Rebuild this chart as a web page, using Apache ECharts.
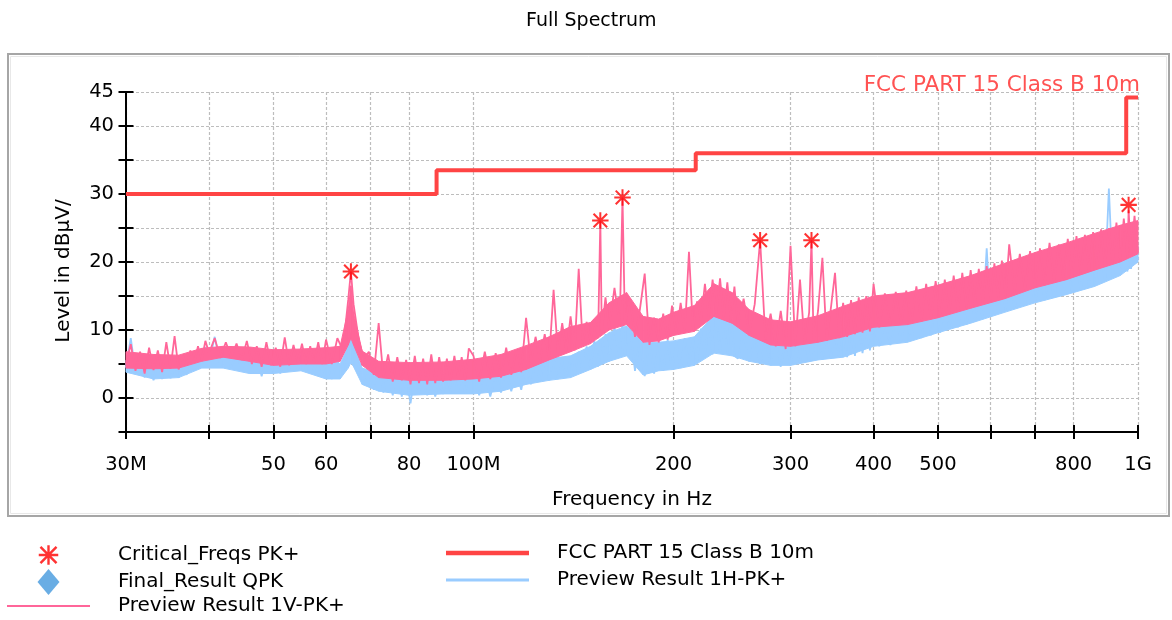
<!DOCTYPE html>
<html>
<head>
<meta charset="utf-8">
<title>Full Spectrum</title>
<script src="https://cdn.jsdelivr.net/npm/echarts@6/dist/echarts.min.js"></script>
<style>
  html, body { margin: 0; padding: 0; background: #fff; }
  #chart { width: 1172px; height: 620px; }
</style>
</head>
<body>
<div id="chart"></div>
<script>
// sweep frequencies in MHz, shared by both preview traces
const freqMHz = [
  30, 30.5, 31, 31.5, 32, 32.5, 33, 33.5, 34, 34.5, 35, 35.5, 36, 36.5, 37, 37.5, 38, 38.5, 39, 39.5,
  40, 40.8, 41.6, 42.4, 43.2, 44, 44.8, 45.6, 46.4, 47.2, 48, 48.8, 49.6, 50.4, 51.2, 52, 52.8, 53.6, 54.4, 55.2, 56, 56.8, 57.6, 58.4, 59.2,
  60, 61.2, 62.4, 63.6, 64.8, 65.4, 66, 67.2, 68.4, 69.6, 70.8, 72, 73.2, 74.4, 75.6, 76.8, 78, 79.2, 80.4, 81.6, 82.8, 84, 85.2, 86.4, 87.6, 88.8, 90, 91.2, 92.4, 93.6, 94.8, 96, 97.2, 98.4,
  100, 102, 104, 106, 108, 110, 112, 114, 116, 118, 120, 122, 124, 126, 128, 130, 132, 134, 136, 138, 140, 142, 144, 146, 148, 150, 152, 154, 155.2, 156, 158,
  160, 163, 166, 167.6, 169, 172, 175, 178, 181, 184, 187, 190, 193, 196, 199, 202, 205, 208, 211, 214, 217, 220, 223, 226, 229, 232, 235, 238, 241, 244, 247,
  250, 255, 260, 265, 270, 275, 280, 285, 290, 295, 300, 305, 310, 315, 320, 322.6, 325, 330, 335, 340, 345, 350, 355, 360, 365, 370, 375, 380, 385, 390, 395,
  400, 408, 416, 424, 432, 440, 448, 456, 464, 472, 480, 488, 496, 504, 512, 520, 528, 536, 544, 552, 560, 568, 576, 584, 592, 600, 608, 616, 624, 632,
  640, 652, 664, 676, 688, 700, 712, 724, 736, 748, 760, 772, 784, 796, 808, 820, 832, 844, 856, 868, 880, 892, 904, 916, 928, 940, 952, 964, 968, 976, 988, 1000
];

// Preview Result 1V-PK+ (dBµV/m)
const levelV = [
  5.0, 7.9, 4.0, 6.8, 3.6, 7.4, 4.1, 7.0, 3.8, 8.2, 4.3, 9.1, 4.2, 6.3, 4.8, 7.0, 5.2, 7.6, 5.6, 8.4,
  6.6, 8.8, 5.9, 8.2, 6.0, 8.0, 5.6, 8.4, 5.0, 7.6, 4.6, 8.2, 4.8, 7.4, 4.6, 8.9, 4.8, 7.8, 5.2, 8.0, 5.0, 7.6, 5.2, 8.2, 5.0,
  8.6, 5.0, 8.8, 7.0, 14.5, 18.6, 13.8, 8.5, 5.8, 6.8, 3.4, 11.0, 3.0, 6.4, 2.4, 6.0, 2.6, 5.6, 2.0, 6.2, 2.2, 5.8, 2.0, 6.4, 2.2, 6.0, 2.4, 5.8, 2.6, 6.2, 2.8, 6.0, 2.6, 7.3,
  6.2, 2.4, 6.8, 2.8, 6.6, 3.0, 7.4, 3.4, 7.0, 3.8, 11.8, 5.2, 9.0, 5.6, 9.4, 5.8, 15.9, 6.4, 11.0, 6.8, 12.0, 7.0, 19.0, 8.0, 11.2, 8.4, 11.6, 8.8, 26.1, 9.6, 14.8,
  10.2, 16.2, 10.8, 29.5, 11.0, 14.6, 9.0, 13.0, 18.3, 7.8, 11.8, 8.2, 12.4, 8.6, 13.6, 9.4, 14.0, 9.6, 21.5, 10.0, 14.2, 11.4, 16.8, 12.0, 17.4, 12.4, 17.6, 11.8, 17.0, 11.4, 16.4,
  10.6, 14.6, 9.6, 13.8, 23.2, 8.6, 12.4, 7.6, 12.8, 7.2, 22.4, 7.6, 17.4, 8.0, 12.6, 23.2, 8.2, 12.8, 20.6, 8.4, 13.2, 18.4, 8.8, 14.0, 9.0, 14.4, 9.4, 14.8, 9.6, 15.0, 9.8,
  16.8, 10.4, 15.4, 10.6, 15.6, 10.8, 15.8, 11.0, 16.4, 11.2, 16.8, 11.6, 17.2, 12.0, 17.4, 12.4, 18.0, 12.8, 18.4, 13.2, 18.8, 13.6, 19.0, 14.0, 19.4, 14.4, 19.8, 14.8, 20.2, 15.0,
  22.6, 15.6, 21.2, 16.0, 21.6, 16.4, 22.0, 16.6, 22.8, 17.0, 22.6, 17.4, 23.4, 17.8, 23.8, 18.2, 24.0, 18.6, 24.4, 19.0, 24.8, 19.4, 25.0, 19.8, 25.8, 20.2, 26.4, 20.6, 27.6, 21.0, 26.8, 21.4
];

// Preview Result 1H-PK+ (dBµV/m)
const levelH = [
  4.5, 8.8, 3.8, 5.9, 3.0, 5.4, 2.6, 5.0, 2.8, 5.5, 2.9, 4.6, 3.0, 4.5, 3.4, 5.8, 4.0, 6.6, 4.6, 7.5,
  5.2, 9.0, 4.8, 6.8, 4.5, 6.5, 4.2, 6.9, 3.6, 6.2, 3.2, 6.0, 3.8, 5.6, 3.6, 5.8, 4.0, 6.0, 4.2, 6.2, 4.0, 5.8, 4.0, 6.0, 3.4,
  5.2, 2.8, 5.4, 4.0, 8.0, 9.6, 8.2, 4.5, 2.0, 4.0, 1.2, 4.4, 0.8, 3.8, 0.4, 4.2, 0.2, 3.4, -0.8, 3.6, 0.6, 3.0, 0.4, 2.6, 0.2, 2.8, 0.6, 3.0, 0.8, 3.2, 1.0, 3.4, 0.6, 3.6,
  3.2, 0.4, 3.6, 0.2, 3.4, 0.8, 3.8, 1.0, 4.0, 1.2, 4.8, 2.0, 5.4, 2.4, 5.6, 2.6, 5.8, 2.8, 5.4, 3.0, 5.9, 3.4, 6.8, 3.8, 7.6, 4.2, 8.4, 4.6, 8.6, 5.0, 9.4,
  5.4, 10.4, 6.0, 11.2, 6.2, 10.6, 4.0, 8.6, 3.2, 8.4, 3.6, 8.0, 4.0, 8.6, 4.2, 8.2, 4.4, 8.8, 4.8, 8.6, 5.4, 10.2, 6.0, 11.4, 6.4, 12.2, 6.8, 12.6, 6.4, 11.8, 6.2,
  5.8, 9.6, 5.4, 9.0, 5.0, 8.6, 4.8, 8.6, 4.6, 8.8, 4.8, 8.2, 5.2, 8.6, 5.4, 9.0, 5.6, 9.2, 5.6, 9.2, 5.8, 9.4, 6.0, 9.6, 6.0, 10.0, 6.2, 10.2, 6.6, 10.6, 7.0,
  11.0, 7.6, 11.2, 7.8, 11.6, 8.2, 12.0, 8.4, 12.4, 8.8, 12.8, 9.2, 13.2, 9.6, 13.6, 10.2, 14.0, 10.4, 14.4, 10.8, 14.8, 11.2, 15.2, 11.6, 22.0, 12.0, 15.8, 12.4, 16.2, 12.8,
  17.0, 13.2, 17.2, 13.6, 17.6, 14.0, 18.0, 14.4, 18.4, 14.8, 18.6, 15.2, 19.0, 15.6, 19.4, 16.0, 19.8, 16.4, 20.2, 16.8, 20.6, 17.2, 30.8, 17.8, 21.4, 18.2, 21.8, 18.6, 22.0, 19.0, 22.4, 20.4
];

// dense-trace body: inner top/bottom edge of each trace's noise band (MHz, dBµV/m)
const bandFreq = [30, 33, 36, 39, 42, 46, 50, 55, 60, 63, 64.8, 65.4, 66, 68, 72, 80, 90, 100, 110, 120, 130, 140, 150, 160, 170, 180, 190, 200, 215, 230, 245, 260, 280, 300, 330, 360, 400, 450, 500, 560, 630, 700, 780, 860, 940, 1000];
const bandTopV = [6.8, 6.4, 6.3, 7.3, 7.6, 7.5, 7.1, 7.2, 7.4, 7.6, 13.0, 16.5, 12.5, 6.9, 5.4, 5.2, 5.3, 5.7, 6.4, 7.7, 9.0, 10.5, 11.1, 14.0, 15.5, 12.0, 11.6, 12.6, 13.6, 16.8, 15.5, 13.0, 11.5, 11.2, 12.1, 13.5, 15.0, 15.5, 16.6, 18.0, 19.8, 21.4, 22.8, 24.2, 25.4, 26.1];
const bandBotV = [4.4, 4.3, 4.4, 5.4, 6.0, 5.4, 4.8, 5.0, 5.0, 5.4, 7.8, 8.8, 7.8, 4.8, 3.0, 2.6, 2.6, 2.8, 3.2, 4.2, 5.6, 6.8, 8.0, 10.0, 10.8, 8.2, 8.4, 9.2, 9.8, 12.0, 11.0, 9.2, 7.8, 7.6, 8.2, 9.0, 10.4, 10.8, 11.8, 13.2, 14.6, 16.2, 17.4, 18.8, 20.0, 21.2];
const bandTopH = [5.6, 5.2, 4.8, 6.6, 6.8, 6.2, 6.0, 6.2, 5.6, 5.0, 7.6, 9.0, 8.0, 4.4, 3.6, 3.4, 3.2, 3.6, 4.0, 5.0, 5.8, 6.2, 7.6, 9.6, 10.6, 8.2, 8.2, 8.4, 9.0, 12.2, 11.2, 9.4, 8.8, 8.6, 9.4, 9.8, 11.2, 12.2, 13.6, 15.0, 16.6, 18.2, 19.4, 20.4, 21.6, 22.4];
const bandBotH = [3.8, 2.8, 3.0, 4.4, 4.4, 3.6, 3.6, 4.0, 2.8, 2.8, 4.4, 5.2, 4.6, 2.0, 1.0, 0.4, 0.6, 0.6, 1.0, 2.0, 2.6, 3.0, 4.2, 5.4, 6.2, 3.4, 4.0, 4.2, 4.8, 6.6, 6.2, 5.4, 4.8, 4.8, 5.6, 6.0, 7.6, 8.2, 9.6, 11.0, 12.6, 14.0, 15.2, 16.4, 18.0, 20.0];

// Critical_Freqs PK+
const critFreqs = [65.4, 155.2, 167.6, 270, 322.6, 968];
const critLevels = [18.6, 26.1, 29.5, 23.2, 23.2, 28.4];

// FCC PART 15 Class B 10m limit (step changes)
const limitFreqs = [30, 88, 216, 960, 1000];
const limitLevels = [30, 33.5, 36, 44.2, 44.2];

// axis ticks
const xTickMHz = [30, 40, 50, 60, 70, 80, 100, 200, 300, 400, 500, 600, 700, 800, 1000];
const xLabelMHz = [30, 50, 60, 80, 100, 200, 300, 400, 500, 800, 1000];
const xLabelText = { 30: '30M', 100: '100M', 1000: '1G' };
const yLabels = [0, 10, 20, 30, 40, 45];

const F = '"DejaVu Sans", sans-serif';
const STAR = 'path://M0 0M24 24M3 10.9L21 10.9L21 13.1L3 13.1Z M10.9 3L13.1 3L13.1 21L10.9 21Z M5.4 3.8L20.2 18.6L18.6 20.2L3.8 5.4Z M18.6 3.8L20.2 5.4L5.4 20.2L3.8 18.6Z';
const DIAMOND = 'path://M12 0L23 13L12 26L1 13Z';
// legend strokes drawn as thin bars
const barIcon = h => 'path://M0 0L100 0L100 ' + h + 'L0 ' + h + 'Z';

// x axis is log10(Hz)
const lg = mhz => Math.log10(mhz * 1e6);
const pts = (fs, vs) => fs.map((f, i) => [lg(f), vs[i]]);

// filled body between the two band edges, one quad per band step
function bandSeries(top, bot, color, z) {
  const rows = bandFreq.map((f, i) => [lg(f), top[i], bot[i]]);
  return {
    type: 'custom',
    silent: true,
    z: z,
    data: rows,
    encode: { x: 0, y: [1, 2] },
    renderItem: (params, api) => {
      const i = params.dataIndex;
      if (i >= rows.length - 1) return null;
      const a = rows[i], b = rows[i + 1];
      return {
        type: 'polygon',
        shape: { points: [api.coord([a[0], a[1]]), api.coord([b[0], b[1]]), api.coord([b[0], b[2]]), api.coord([a[0], a[2]])] },
        style: { fill: color, stroke: color, lineWidth: 1 }
      };
    }
  };
}

const chart = echarts.init(document.getElementById('chart'));

const gridLine = { show: true, lineStyle: { color: '#bdbdbd', type: [3, 2], width: 1.2 } };
const tickStyle = { color: '#000', width: 2 };
const legendText = { fontFamily: F, fontSize: 20, color: '#000', padding: [0, 0, 0, 23] };

chart.setOption({
  animation: false,
  title: {
    text: 'Full Spectrum',
    left: 526,
    top: 12,
    padding: 0,
    textStyle: { fontFamily: F, fontSize: 19, fontWeight: 'normal', color: '#000' }
  },
  grid: { left: 126, right: 34, top: 92, bottom: 188, outerBoundsMode: 'none' },
  xAxis: [
    {
      type: 'value',
      min: lg(30),
      max: lg(1000),
      name: 'Frequency in Hz',
      nameLocation: 'middle',
      nameGap: 58,
      nameTextStyle: { fontFamily: F, fontSize: 20, color: '#000' },
      axisLine: { show: true, onZero: false, lineStyle: { color: '#000', width: 2 } },
      axisTick: { show: true, length: 7, customValues: xTickMHz.map(lg), lineStyle: tickStyle },
      axisLabel: {
        customValues: xLabelMHz.map(lg),
        margin: 23,
        fontFamily: F,
        fontSize: 19.5,
        color: '#000',
        formatter: v => {
          const m = Math.round(Math.pow(10, v) / 1e6);
          return xLabelText[m] || String(m);
        }
      },
      splitLine: gridLine
    },
    {
      // inner half of the crossing ticks
      type: 'value',
      min: lg(30),
      max: lg(1000),
      position: 'bottom',
      axisLine: { show: false, onZero: false },
      axisTick: { show: true, inside: true, length: 7, customValues: xTickMHz.map(lg), lineStyle: tickStyle },
      axisLabel: { show: false },
      splitLine: { show: false }
    }
  ],
  yAxis: [
    {
      type: 'value',
      min: -5,
      max: 45,
      interval: 5,
      name: 'Level in dBµV/',
      nameLocation: 'middle',
      nameGap: 52,
      nameRotate: 90,
      nameTextStyle: { fontFamily: F, fontSize: 20, color: '#000', padding: [0, 18, 0, 0] },
      axisLine: { show: true, onZero: false, lineStyle: { color: '#000', width: 2 } },
      axisTick: { show: true, length: 7.5, lineStyle: tickStyle },
      axisLabel: {
        margin: 12,
        fontFamily: F,
        fontSize: 19.5,
        color: '#000',
        formatter: v => (yLabels.includes(v) ? String(v) : '')
      },
      splitLine: gridLine
    },
    {
      type: 'value',
      min: -5,
      max: 45,
      interval: 5,
      position: 'left',
      axisLine: { show: false, onZero: false },
      axisTick: { show: true, inside: true, length: 7.5, lineStyle: tickStyle },
      axisLabel: { show: false },
      splitLine: { show: false }
    }
  ],
  legend: [
    {
      orient: 'vertical',
      left: 7,
      top: 542,
      padding: 0,
      itemWidth: 83,
      itemHeight: 26,
      itemGap: 1,
      selectedMode: false,
      textStyle: legendText,
      data: [
        'Critical_Freqs PK+',
        'Final_Result QPK',
        { name: 'Preview Result 1V-PK+', icon: barIcon(2.6) }
      ]
    },
    {
      orient: 'vertical',
      left: 446,
      top: 543,
      padding: 0,
      itemWidth: 83,
      itemHeight: 26,
      itemGap: 7,
      selectedMode: false,
      textStyle: legendText,
      data: [
        { name: 'FCC PART 15 Class B 10m', icon: barIcon(5.6) },
        { name: 'Preview Result 1H-PK+', icon: barIcon(3.8) }
      ]
    }
  ],
  graphic: [
    { type: 'rect', silent: true, z: -10, shape: { x: 8, y: 54, width: 1161, height: 462 }, style: { fill: 'none', stroke: '#a6a6a6', lineWidth: 2 } },
    { type: 'rect', silent: true, z: -10, shape: { x: 10.5, y: 56.5, width: 1156, height: 457 }, style: { fill: 'none', stroke: '#e8e8e8', lineWidth: 1 } },
    { type: 'text', right: 32, top: 74, silent: true, style: { text: 'FCC PART 15 Class B 10m', fill: '#ff5252', font: '21.5px "DejaVu Sans", sans-serif' } }
  ],
  series: [
    bandSeries(bandTopH, bandBotH, '#99ccff', 2),
    {
      name: 'Preview Result 1H-PK+',
      type: 'line',
      data: pts(freqMHz, levelH),
      symbol: 'none',
      silent: true,
      lineStyle: { color: '#99ccff', width: 1.8 },
      itemStyle: { color: '#99ccff' },
      z: 2
    },
    bandSeries(bandTopV, bandBotV, '#ff6699', 3),
    {
      name: 'Preview Result 1V-PK+',
      type: 'line',
      data: pts(freqMHz, levelV),
      symbol: 'none',
      silent: true,
      lineStyle: { color: '#ff6699', width: 1.8 },
      itemStyle: { color: '#ff6699' },
      z: 3
    },
    {
      name: 'FCC PART 15 Class B 10m',
      type: 'line',
      step: 'end',
      data: pts(limitFreqs, limitLevels),
      symbol: 'none',
      silent: true,
      lineStyle: { color: '#ff4444', width: 4 },
      itemStyle: { color: '#ff4444' },
      z: 4
    },
    {
      name: 'Critical_Freqs PK+',
      type: 'scatter',
      data: pts(critFreqs, critLevels),
      symbol: STAR,
      symbolSize: 22,
      silent: true,
      itemStyle: { color: '#ff0000' },
      z: 5
    },
    {
      name: 'Final_Result QPK',
      type: 'scatter',
      data: [],
      symbol: DIAMOND,
      symbolSize: 14,
      itemStyle: { color: '#4499dd' },
      z: 5
    }
  ]
});

window.addEventListener('resize', () => chart.resize());
</script>
</body>
</html>
